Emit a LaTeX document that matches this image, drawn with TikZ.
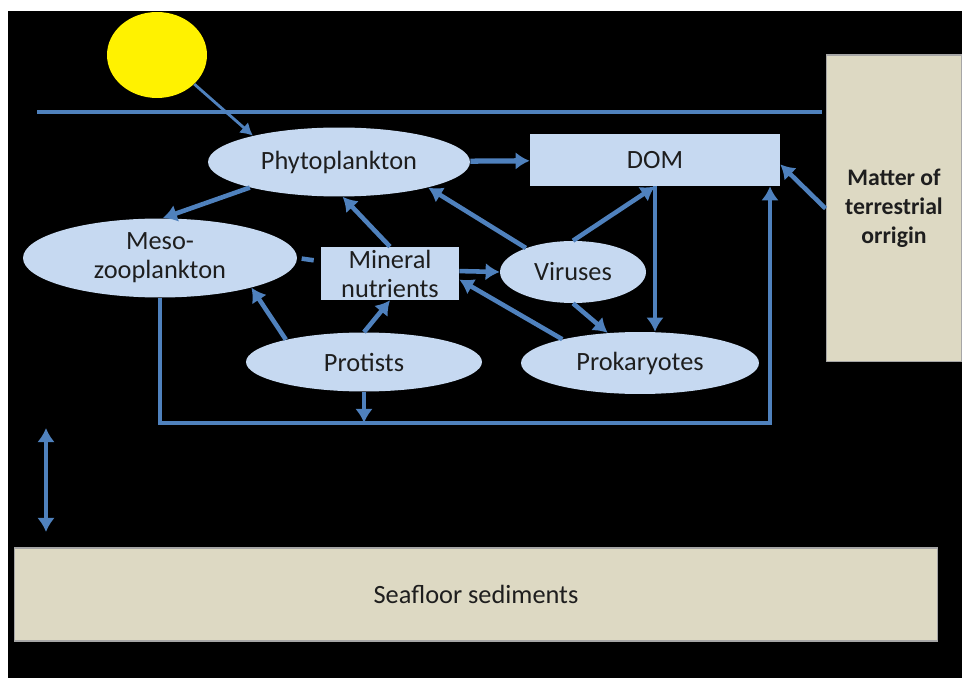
\documentclass[tikz,border=0pt]{standalone}
\usepackage{fontspec}
\setmainfont{Carlito}
\usetikzlibrary{shapes.geometric,arrows.meta}
\definecolor{flow}{RGB}{79,129,189}
\definecolor{cell}{RGB}{198,217,241}
\definecolor{sand}{RGB}{221,217,195}
\definecolor{ink}{RGB}{30,30,30}
\tikzset{organism/.style = {ellipse,fill=cell,inner sep=0pt,text=ink,align=center}}
\tikzset{pool/.style = {rectangle,fill=cell,inner sep=0pt,text=ink,align=center}}
\tikzset{land/.style = {rectangle,fill=sand,draw=gray!70,line width=0.6pt,inner sep=0pt,text=ink,align=center}}

\begin{document}
\begin{tikzpicture}[x=0.02cm,y=-0.02cm,> = {Latex[length=8pt,width=10pt]}]
	\useasboundingbox (0,0) rectangle (962,678);
	\fill[white] (0,0) rectangle (962,678);
	\fill[black] (8,11) rectangle (962,678);
	\begin{scope}[every node/.style={font=\fontsize{15}{16.5}\selectfont}]
	    \node [ellipse,fill=yellow,minimum width=2cm,minimum height=1.72cm] (sun) at (157,55) {};
	    \node [organism,minimum width=5.24cm,minimum height=1.38cm] (phyto) at (339,162) {Phytoplankton};
	    \node [pool,minimum width=5cm,minimum height=1.04cm] (dom) at (655,160) {DOM};
	    \node [land,minimum width=2.72cm,minimum height=6.14cm,font=\fontsize{13.5}{16.5}\selectfont\bfseries] (matter) at (894,208.5) {Matter of\\terrestrial\\orrigin};
	    \node [organism,minimum width=5.48cm,minimum height=1.58cm] (meso) at (160,258) {Meso-\\zooplankton};
	    \node [pool,minimum width=2.76cm,minimum height=1.06cm] (mineral) at (390,273.5) {Mineral\\nutrients};
	    \node [organism,minimum width=2.92cm,minimum height=1.24cm] (viruses) at (573,272) {Viruses};
	    \node [organism,minimum width=4.72cm,minimum height=1.18cm] (protists) at (364,362) {Protists};
	    \node [organism,minimum width=4.76cm,minimum height=1.24cm] (prok) at (640,363) {Prokaryotes};
	    \node [land,minimum width=18.48cm,minimum height=1.86cm] (floor) at (476,594.5) {Seafloor sediments};
	\end{scope}
	\coordinate (seaL) at (37,112);
	\coordinate (seaR) at (822,112);
	\coordinate (turn) at (770,423);
	\coordinate (top) at (46,428);
	\coordinate (bottom) at (46,532);
	\draw [flow,line width=2pt] (seaL) -- (seaR);
	\draw [flow,line width=1.6pt,->,> = {Latex[length=7pt,width=8pt]}] (sun.322) -- (phyto.163);
	\begin{scope}[every edge/.style={draw=flow,line width=2.6pt}]
	    \path [->] (phyto) edge [line width=3pt] (dom);
	    \path [->] (phyto.196) edge (meso.86);
	    \path [->] (mineral.north) edge (phyto.276);
	    \path [->] (viruses.153) edge (phyto.344);
	    \path [->] (viruses.north) edge (dom.south);
	    \path [->] (dom.south) edge (dom.south |- prok.north);
	    \path [->] (viruses.south) edge (prok.137);
	    \path [->] (prok.163) edge (mineral.-5);
	    \path [->] (mineral.2) edge (viruses.west);
	    \path [-] (mineral.170) edge [shorten <=4pt,shorten >=2.5pt] (meso.east);
	    \path [->] (protists.164) edge (meso.342);
	    \path [->] (protists.north) edge (mineral.south);
	    \path [->] (matter.west) edge (dom.-2);
	    \path [->] (protists.south) edge (protists.south |- turn);
	    \path [<->] (top) edge (bottom);
	\end{scope}
	\draw [flow,line width=2.3pt,->] (meso.south) |- (turn) -- (turn |- dom.south);
\end{tikzpicture}
\end{document}
